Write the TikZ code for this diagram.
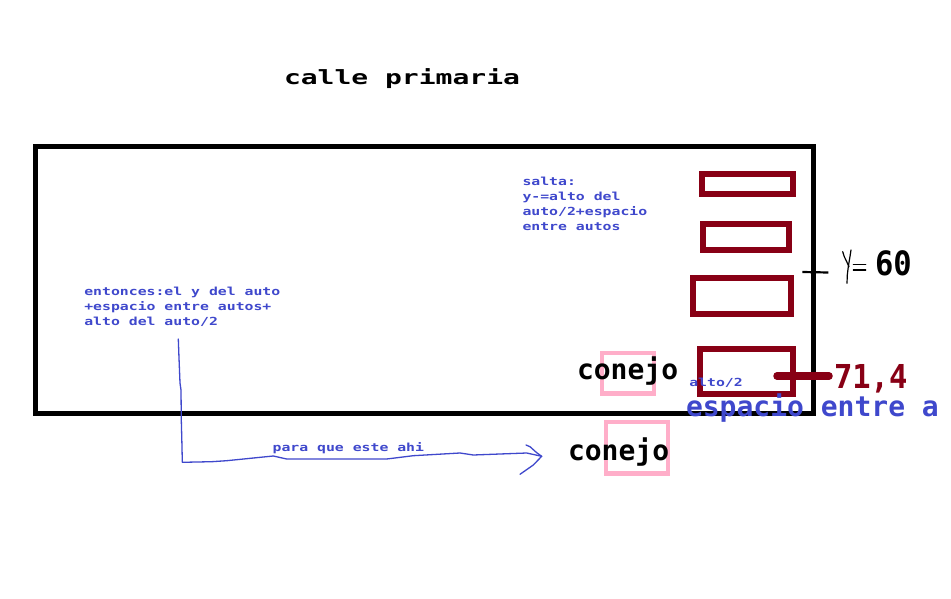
\documentclass[tikz,border=0pt]{standalone}
\usepackage{fontspec}
\setmonofont{DejaVu Sans Mono}
\definecolor{carred}{RGB}{136,0,21}
\definecolor{paintblue}{RGB}{63,72,204}
\definecolor{rabbitpink}{RGB}{255,174,201}
\begin{document}
\begin{tikzpicture}[x=1pt,y=-1pt,
  lbl/.style={inner sep=0pt,outer sep=0pt,anchor=base west},
  big/.style={lbl,font=\ttfamily\bfseries\fontsize{28}{28}\selectfont},
  digits/.style={lbl,font=\ttfamily\bfseries\fontsize{30.5}{30}\selectfont},
  note/.style={lbl,text=paintblue,font=\ttfamily\bfseries\fontsize{14.8}{15}\selectfont},
  box/.style={rectangle,inner sep=0pt,outer sep=0pt},
  road/.style={box,draw=black,line width=5pt},
  car/.style={box,draw=carred,line width=6pt},
  rabbit/.style={box,draw=rabbitpink,line width=4.4pt},
  pen/.style={draw=paintblue,line width=1.3pt,line join=round,line cap=round},
  ink/.style={draw=black,line width=1.2pt,line cap=round},
]
\useasboundingbox[fill=white] (0,0) rectangle (951,599);

% road
\node[road,minimum width=778pt,minimum height=266.5pt] (road) at (424.5,279.75) {};

% cars
\node[car,minimum width=91.6pt,minimum height=20.5pt] (car1) at (747.5,184) {};
\node[car,minimum width=86.6pt,minimum height=26.3pt] (car2) at (746,236.85) {};
\node[car,minimum width=98pt,minimum height=35.7pt] (car3) at (742,295.85) {};
\node[car,minimum width=92.7pt,minimum height=44.7pt] (car4) at (746.35,371.35) {};

% rabbits
\node[rabbit,minimum width=51.6pt,minimum height=40.3pt] (rab1) at (628,373.35) {};
\node[rabbit,minimum width=61.6pt,minimum height=51.3pt] (rab2) at (637,447.85) {};

% title
\node[big] (title) at (284,85) {\scalebox{1}[0.7]{calle primaria}};

% rabbits' labels
\node[big] (con1) at (577,379) {conejo};
\node[big] (con2) at (568,460) {conejo};

% notes
\node[note] (s1) at (522.5,185.7) {\scalebox{1}[0.75]{salta:}};
\node[note] (s2) at (522.5,200.7) {\scalebox{1}[0.75]{y-=alto del}};
\node[note] (s3) at (522.5,215.7) {\scalebox{1}[0.75]{auto/2+espacio}};
\node[note] (s4) at (522.5,230.7) {\scalebox{1}[0.75]{entre autos}};

\node[note] (e1) at (84.3,295.7) {\scalebox{1}[0.75]{entonces:el y del auto}};
\node[note] (e2) at (84.3,310.7) {\scalebox{1}[0.75]{+espacio entre autos+}};
\node[note] (e3) at (84.3,325.7) {\scalebox{1}[0.75]{alto del auto/2}};

\node[note] (para) at (272.6,451.5) {\scalebox{1}[0.75]{para que este ahi}};
\node[note] (alto) at (689.3,386) {\scalebox{1}[0.75]{alto/2}};

\node[big,text=paintblue] (esp) at (686,416.5) {espacio entre a};

% numbers
\node[digits,text=carred] (num) at (834,388.5) {\scalebox{1}[1.08]{71,4}};
\node[digits] (sixty) at (875,275.7) {\scalebox{1}[1.1]{60}};

% red marker from car to 71,4
\coordinate (redS) at (777,376);
\coordinate (redE) at (829,376);
\draw[carred,line width=7.5pt,line cap=round] (redS) -- (redE);

% tick at y=60 and handwritten "y="
\coordinate (tickS) at (802.3,272);
\coordinate (tickE) at (828.3,272.5);
\draw[black,line width=2.2pt] (tickS) -- (tickE);
\draw[ink] (842.7,251.7) -- (844.3,256.7) -- (846.7,261.7) -- (849,266.7);
\draw[ink] (851,250) -- (849.7,258.3) -- (848.3,266.7) -- (847.3,275) -- (847,283.3);
\draw[ink] (853.3,264.5) -- (865.7,264.5);
\draw[ink] (853.3,270) -- (865.7,270);

% blue hand-drawn arrow
\coordinate (arrS) at (178.3,339);
\coordinate (arrE) at (541.7,456.3);
\draw[pen] (arrS) -- (179,358) -- (180,383) -- (181,390) -- (181.3,420) -- (182,447) -- (182.3,462.3)
  -- (211.7,461.7) -- (226.7,460.7) -- (273.3,456) -- (286.7,459) -- (386.7,459)
  -- (413.3,455.7) -- (460,453) -- (473.3,455) -- (526.7,453) -- (arrE);
\draw[pen] (526,445) -- (530,446.7) -- (536.7,452.7) -- (arrE) -- (533.3,465) -- (520,474.3);
\end{tikzpicture}
\end{document}
